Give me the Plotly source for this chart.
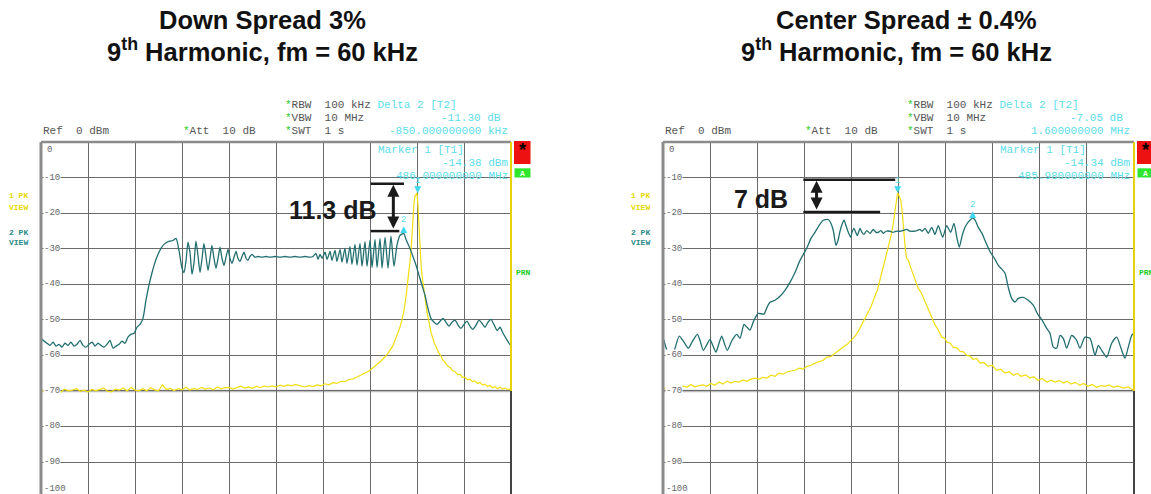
import plotly.graph_objects as go

W, H = 1151, 494

# ---------------- data (MHz, dBm) ----------------
# Left panel: Down spread 3 %  (span 462..492 MHz)
L_TEAL_F = [462.00, 462.19, 462.38, 462.57, 462.77, 462.96, 463.15, 463.34, 463.53, 463.72,
            463.91, 464.11, 464.30, 464.49, 464.68, 464.87, 465.06, 465.26, 465.45, 465.64,
            465.83, 466.02, 466.21, 466.40, 466.60, 466.79, 466.98, 467.17, 467.36, 467.55,
            467.74, 467.94, 468.13, 468.32, 468.51, 468.70, 468.89, 469.09, 469.28, 469.47,
            469.66, 469.85, 470.04, 470.23, 470.43, 470.62,
            470.81, 471.00, 471.13, 471.26, 471.38, 471.51, 471.64, 471.77, 471.89, 472.02,
            472.15, 472.28, 472.40, 472.53, 472.66, 472.79, 472.91, 473.04, 473.17, 473.30,
            473.43, 473.55, 473.68, 473.81, 473.94, 474.06, 474.19, 474.32, 474.45, 474.57,
            474.70, 474.83, 474.96, 475.09, 475.21, 475.34, 475.47,
            475.66, 475.85, 476.11, 476.36, 476.62, 476.94, 477.26, 477.57, 477.89, 478.21,
            478.53, 478.85, 479.17, 479.36,
            479.55, 479.68, 479.81, 479.94, 480.13, 480.26, 480.45, 480.57, 480.77, 480.89,
            481.09, 481.21, 481.40, 481.53, 481.72, 481.85, 482.04, 482.17, 482.36, 482.49,
            482.68, 482.81, 483.00, 483.13, 483.32, 483.45, 483.64, 483.77, 483.96, 484.15,
            484.34, 484.53, 484.72, 484.91, 485.15,
            485.30, 485.55, 485.74, 485.94, 486.13, 486.32, 486.51, 486.70, 486.89, 487.09,
            487.28, 487.47, 487.66, 487.85, 488.04, 488.23, 488.43, 488.62, 488.81, 489.00,
            489.19, 489.38, 489.57, 489.77, 489.96, 490.15, 490.34, 490.53, 490.72, 490.91,
            491.11, 491.30, 491.49, 491.68, 491.87, 492.00]
L_TEAL_DB = [-55.2, -56.0, -56.6, -57.2, -56.3, -57.4, -56.9, -57.7, -56.6, -57.2,
             -56.3, -57.4, -56.9, -55.8, -57.2, -57.7, -56.9, -56.3, -57.4, -56.6,
             -57.2, -57.7, -56.9, -55.8, -58.0, -57.4, -56.9, -56.0, -56.6, -54.9,
             -54.1, -53.8, -52.1, -51.3, -49.6, -44.5, -40.3, -36.7, -33.8, -31.6,
             -29.9, -28.8, -28.2, -27.9, -27.7, -27.1,
             -30.5, -35.5, -36.7, -33.3, -28.2, -31.0, -37.2, -33.8, -27.9, -31.9,
             -36.7, -32.7, -28.5, -32.2, -36.1, -32.7, -29.1, -32.7, -35.5, -32.7,
             -29.6, -32.7, -34.7, -32.4, -30.2, -32.7, -34.1, -32.4, -30.8, -32.7,
             -33.6, -32.2, -31.0, -32.7, -33.3, -32.2, -31.6,
             -32.4, -32.2, -32.4, -32.2, -32.4, -32.2, -32.4, -32.2, -32.4, -32.2,
             -32.4, -32.2, -32.4, -32.2,
             -31.3, -33.0, -31.6, -32.7, -31.0, -33.0, -30.8, -33.3, -30.5, -33.6,
             -30.2, -33.8, -29.9, -34.1, -29.4, -34.4, -28.8, -34.7, -28.5, -35.0,
             -28.0, -35.0, -27.7, -35.3, -27.4, -35.3, -27.1, -35.5, -26.8, -35.5,
             -26.5, -35.0, -29.1, -26.3, -25.7,
             -27.4, -29.9, -32.2, -34.7, -37.5, -40.3, -43.1, -46.8, -49.6, -50.7,
             -51.3, -50.4, -49.6, -50.7, -51.8, -50.7, -50.1, -51.5, -52.4, -51.3,
             -50.4, -51.8, -52.7, -51.5, -50.1, -51.0, -52.1, -50.7, -49.9, -51.3,
             -53.0, -52.1, -53.8, -55.2, -56.6, -57.4]

L_YEL_F = [462.00, 462.25, 462.50, 462.75, 463.00, 463.25, 463.50, 463.75, 464.00, 464.25,
           464.50, 464.75, 465.00, 465.25, 465.50, 465.75, 466.00, 466.25, 466.50, 466.75,
           467.00, 467.25, 467.50, 467.75, 468.00, 468.25, 468.50, 468.75, 469.00, 469.25,
           469.50, 469.75, 470.00, 470.25, 470.50, 470.75, 471.00, 471.25, 471.50, 471.75,
           472.00, 472.25, 472.50, 472.75, 473.00, 473.25, 473.50, 473.75, 474.00, 474.25,
           474.50, 474.75, 475.00, 475.25, 475.50, 475.75, 476.00, 476.25, 476.50, 476.75,
           477.00, 477.25, 477.50, 477.75, 478.00, 478.25, 478.50,
           478.85, 479.11, 479.36, 479.62, 479.87, 480.13, 480.38, 480.64, 480.89, 481.15,
           481.40, 481.66, 481.91, 482.17, 482.43, 482.68, 482.94, 483.19, 483.45, 483.70,
           483.96, 484.21, 484.47, 484.66, 484.85, 485.04, 485.17, 485.30, 485.43, 485.55,
           485.62, 485.68, 485.74, 485.81, 485.87, 485.94, 486.00, 486.06, 486.13, 486.19,
           486.26, 486.32, 486.38, 486.51, 486.64, 486.77, 486.89, 487.09, 487.28, 487.40,
           487.53, 487.66, 487.79, 487.95, 488.11, 488.27, 488.43, 488.59, 488.75, 488.90,
           489.06, 489.22, 489.38, 489.54, 489.70, 489.86, 490.02, 490.18, 490.34, 490.50,
           490.66, 490.82, 490.98, 491.14, 491.30, 491.46, 491.62, 491.80, 492.00]
L_YEL_DB = [-69.8, -70.2, -69.6, -70.1, -69.9, -70.4, -69.5, -70.0, -69.8, -69.3,
            -70.1, -69.8, -70.3, -69.6, -70.0, -69.7, -69.2, -70.1, -70.3, -69.5,
            -69.8, -69.2, -70.0, -69.0, -69.8, -70.0, -69.4, -70.0, -69.1, -69.7,
            -70.0, -68.3, -69.6, -69.3, -69.9, -69.4, -69.7, -69.0, -69.8, -69.3,
            -69.6, -69.0, -69.5, -69.2, -69.7, -68.9, -69.4, -69.1, -69.0, -69.5,
            -69.2, -68.7, -69.2, -68.9, -69.3, -68.7, -69.1, -68.6, -68.9, -68.6,
            -68.9, -68.4, -68.7, -68.3, -68.6, -68.2, -68.5,
            -68.9, -68.5, -68.8, -68.3, -68.6, -68.0, -68.3, -67.7, -67.9, -67.3,
            -67.4, -66.8, -66.6, -66.1, -65.6, -65.0, -64.4, -63.5, -62.6, -61.6,
            -60.4, -59.0, -57.2, -55.2, -52.9, -50.1, -47.3, -43.4, -38.9, -33.8,
            -30.5, -26.3, -20.8, -17.0, -15.2, -14.6, -14.4, -17.8, -23.5, -31.3,
            -34.7, -37.5, -39.7, -44.5, -47.9, -50.7, -53.5, -56.3, -58.3, -59.4,
            -60.2, -61.4, -61.9, -63.0, -63.4, -64.3, -64.6, -65.4, -65.3, -66.2,
            -66.1, -66.9, -66.7, -67.4, -67.2, -67.9, -67.6, -68.3, -68.1, -68.8,
            -68.5, -69.1, -68.8, -69.4, -69.0, -69.5, -69.2, -69.6, -69.4]

# Right panel: Center spread +/-0.4 %  (span 481..491 MHz)
R_TEAL_F = [481.000, 481.085, 481.185, 481.255, 481.346, 481.446, 481.537, 481.616, 481.728, 481.786,
            481.856, 481.934, 481.998, 482.062, 482.125, 482.189, 482.246, 482.295, 482.365, 482.465,
            482.565, 482.635, 482.720, 482.783, 482.847, 482.932, 483.023, 483.144, 483.208, 483.272,
            483.378, 483.484, 483.590, 483.696, 483.802, 483.909, 484.051, 484.142, 484.227, 484.312,
            484.403, 484.509, 484.567, 484.616, 484.673, 484.715, 484.758, 484.800, 484.843, 484.885,
            484.934, 484.985, 485.013, 485.055, 485.125, 485.183, 485.225, 485.267, 485.325, 485.395,
            485.465, 485.522, 485.571, 485.628, 485.677, 485.734, 485.819, 485.883, 485.947, 486.032,
            486.095, 486.174, 486.244, 486.314, 486.393, 486.456, 486.499, 486.563, 486.633, 486.705,
            486.775, 486.845, 486.938, 487.023, 487.108, 487.178, 487.242, 487.291, 487.348, 487.412,
            487.476, 487.580, 487.624, 487.694, 487.773, 487.836, 487.943, 488.049, 488.119, 488.176,
            488.261, 488.331, 488.403, 488.473, 488.543, 488.649, 488.755, 488.861, 488.968, 489.025,
            489.074, 489.146, 489.216, 489.286, 489.358, 489.429, 489.499, 489.571, 489.677, 489.783,
            489.853, 489.959, 490.066, 490.172, 490.242, 490.314, 490.420, 490.526, 490.632, 490.739,
            490.809, 490.879, 490.951, 491.000]
R_TEAL_DB = [-54.9, -58.6, -60.5, -58.0, -54.6, -56.3, -58.0, -56.3, -54.1, -55.8,
             -58.6, -56.9, -55.5, -57.4, -59.1, -56.6, -54.6, -56.3, -58.6, -55.8,
             -54.1, -55.2, -51.3, -52.1, -52.9, -50.1, -48.2, -48.4, -46.5, -45.1,
             -44.5, -43.4, -41.7, -39.5, -36.7, -33.3, -29.9, -27.1, -25.4, -23.5,
             -22.0, -21.8, -22.9, -24.9, -29.1, -27.7, -25.1, -23.2, -22.0, -23.5,
             -25.4, -26.8, -25.4, -24.3, -26.3, -24.3, -25.4, -26.0, -24.9, -25.7,
             -24.6, -25.4, -25.4, -24.9, -25.7, -25.1, -25.1, -25.4, -25.1, -25.1,
             -24.9, -24.6, -25.1, -25.1, -24.9, -24.6, -25.1, -24.3, -25.7, -24.0,
             -26.0, -23.5, -26.8, -23.5, -25.4, -22.9, -27.1, -29.6, -26.5, -24.0,
             -22.6, -21.4, -21.9, -24.0, -25.7, -27.7, -30.8, -33.0, -34.7, -35.5,
             -36.9, -40.9, -44.0, -45.0, -44.0, -43.7, -44.5, -45.9, -48.7, -49.6,
             -50.7, -52.4, -53.8, -57.7, -58.0, -54.4, -55.2, -58.0, -54.4, -55.8,
             -58.0, -54.9, -55.2, -60.0, -57.2, -58.6, -60.5, -56.6, -54.9, -58.6,
             -60.8, -57.7, -54.4, -53.8]

R_YEL_F = [481.00, 481.08, 481.17, 481.25, 481.34, 481.42, 481.51, 481.59, 481.68, 481.76,
           481.85, 481.93, 482.02, 482.10, 482.19, 482.27, 482.36, 482.44, 482.53, 482.61,
           482.70, 482.78, 482.87, 482.95, 483.04, 483.12, 483.21, 483.29, 483.38, 483.46,
           483.55, 483.63, 483.72, 483.80, 483.89, 483.97, 484.06, 484.14, 484.23, 484.31,
           484.40, 484.48, 484.57, 484.65, 484.74, 484.82, 484.91, 484.99, 485.08, 485.16,
           485.25, 485.33, 485.42, 485.48, 485.55, 485.61, 485.67, 485.73, 485.80, 485.84,
           485.88, 485.93, 485.95, 485.98, 486.01, 486.05, 486.08, 486.10, 486.14, 486.17,
           486.21, 486.28, 486.35, 486.41, 486.49, 486.58, 486.67, 486.77, 486.85, 486.92,
           486.98, 487.03, 487.10, 487.16, 487.24, 487.31, 487.38, 487.45, 487.52, 487.58,
           487.66, 487.73, 487.81, 487.90, 487.99, 488.08, 488.17, 488.26, 488.35, 488.44,
           488.52, 488.60, 488.70, 488.79, 488.87, 488.96, 489.05, 489.15, 489.24, 489.32,
           489.41, 489.50, 489.58, 489.66, 489.75, 489.85, 489.93, 490.02, 490.11, 490.21,
           490.30, 490.38, 490.47, 490.56, 490.66, 490.77, 490.88, 490.99]
R_YEL_DB = [-69.5, -69.0, -69.6, -68.7, -69.2, -68.6, -69.0, -68.2, -68.9, -68.5,
            -68.3, -68.7, -67.9, -68.4, -67.5, -68.1, -67.3, -67.8, -67.3, -67.5,
            -66.9, -67.3, -66.7, -66.4, -66.7, -66.2, -66.4, -65.6, -65.9, -65.0,
            -65.3, -64.7, -64.4, -64.2, -63.6, -63.9, -63.1, -62.8, -62.2, -61.9,
            -61.4, -60.5, -60.3, -59.4, -58.6, -57.7, -56.9, -55.8, -54.6, -52.9,
            -50.7, -48.7, -46.2, -44.0, -41.7, -38.6, -35.5, -32.2, -28.8, -26.5,
            -23.7, -18.4, -16.4, -14.4, -15.0, -16.4, -19.8, -24.0, -29.4, -32.7,
            -33.3, -36.1, -38.9, -40.9, -42.6, -45.4, -48.2, -51.3, -53.0, -54.9,
            -55.2, -56.3, -56.6, -57.7, -57.9, -58.9, -59.0, -60.0, -60.2, -61.1,
            -60.9, -62.2, -62.0, -63.1, -62.8, -64.2, -63.9, -65.0, -64.6, -65.6,
            -65.1, -65.9, -65.5, -66.4, -66.0, -67.0, -66.5, -67.5, -67.0, -67.5,
            -67.1, -67.8, -67.3, -68.1, -67.6, -68.4, -67.9, -68.7, -68.2, -69.0,
            -68.5, -68.7, -68.3, -69.0, -68.6, -69.2, -68.9, -69.8]

Y_TICKS = [0, -10, -20, -30, -40, -50, -60, -70, -80, -90, -100]

# panel settings
PANELS = [
    dict(xa="x", ya="y", x_range=[462, 492], dtick=3, dom=[41, 511],
         title1="Down Spread 3%", t1x=262, t2x=262,
         m1=(486.00, -14.38), m2=(485.15, -25.68),
         delta_db="-11.30 dB", delta_f="-850.000000000 kHz",
         m1_db="-14.38 dBm", m1_f="486.000000000 MHz",
         bracket_x=(483.04, 485.17, 484.87, 484.49), bracket_y=(-11.74, -25.06),
         label="11.3 dB", label_px=(333, 210)),
    dict(xa="x2", ya="y2", x_range=[481, 491], dtick=1, dom=[663, 1134],
         title1="Center Spread \u00b1 0.4%", t1x=906, t2x=896,
         m1=(485.98, -14.34), m2=(487.58, -21.39),
         delta_db="-7.05 dB", delta_f="1.600000000 MHz",
         m1_db="-14.34 dBm", m1_f="485.980000000 MHz",
         bracket_x=(483.98, 485.93, 485.61, 484.26), bracket_y=(-10.62, -19.72),
         label="7 dB", label_px=(761, 199)),
]

TEAL = "#236f70"
YEL = "#f2de10"
CYAN = "#5cdde8"
GREEN = "#22cc22"
GRID = "#6a6a6a"
TXT = "#555555"
MONO = "Liberation Mono, Courier New, monospace"
SANS = "Liberation Sans, Arial, sans-serif"


def P(px, py):
    return px / W, 1 - py / H


fig = go.Figure()
fig.add_trace(go.Scatter(x=L_YEL_F, y=L_YEL_DB, mode="lines", line=dict(color=YEL, width=1.2),
                         xaxis="x", yaxis="y", hoverinfo="skip"))
fig.add_trace(go.Scatter(x=L_TEAL_F, y=L_TEAL_DB, mode="lines",
                         line=dict(color=TEAL, width=1.3, shape="spline", smoothing=0.6),
                         xaxis="x", yaxis="y", hoverinfo="skip"))
fig.add_trace(go.Scatter(x=R_YEL_F, y=R_YEL_DB, mode="lines", line=dict(color=YEL, width=1.2),
                         xaxis="x2", yaxis="y2", hoverinfo="skip"))
fig.add_trace(go.Scatter(x=R_TEAL_F, y=R_TEAL_DB, mode="lines",
                         line=dict(color=TEAL, width=1.3, shape="spline", smoothing=0.6),
                         xaxis="x2", yaxis="y2", hoverinfo="skip"))

ann = []
shapes = []


def text(px, py, s, size=11, color=TXT, xanchor="left", family=MONO, yanchor="middle", bg=None):
    x, y = P(px, py)
    d = dict(x=x, y=y, xref="paper", yref="paper", text=s, showarrow=False,
             xanchor=xanchor, yanchor=yanchor, font=dict(family=family, size=size, color=color))
    if bg:
        d["bgcolor"] = bg
    d["borderpad"] = 0
    ann.append(d)


layout_axes = {}
for i, p in enumerate(PANELS):
    off = p["dom"][0] - 41
    xa_name = "xaxis" if p["xa"] == "x" else "xaxis2"
    ya_name = "yaxis" if p["ya"] == "y" else "yaxis2"
    layout_axes[xa_name] = dict(domain=[p["dom"][0] / W, p["dom"][1] / W], range=p["x_range"],
                                tick0=p["x_range"][0], dtick=p["dtick"], showgrid=True,
                                gridcolor=GRID, gridwidth=1, showticklabels=False, ticks="",
                                zeroline=False, showline=False, anchor=p["ya"], fixedrange=True)
    layout_axes[ya_name] = dict(domain=[0, 1 - 142 / H], range=[-99, 0], tick0=0, dtick=10,
                                showgrid=True, gridcolor=GRID, gridwidth=1, showticklabels=False,
                                ticks="", zeroline=False, showline=False, anchor=p["xa"],
                                fixedrange=True)
    xd = p["xa"] + " domain"
    yd = p["ya"] + " domain"
    # display line at -70 (lighter)
    shapes.append(dict(type="line", xref=xd, yref=p["ya"], x0=0, x1=1, y0=-70, y1=-70,
                       line=dict(color="#bdbdbd", width=2.5), layer="below"))
    # frame
    shapes.append(dict(type="line", xref=xd, yref=yd, x0=0, x1=0, y0=0, y1=1,
                       line=dict(color="#8c8c8c", width=3)))
    shapes.append(dict(type="line", xref=xd, yref=yd, x0=0, x1=1, y0=1, y1=1,
                       line=dict(color="#8c8c8c", width=2.5)))
    shapes.append(dict(type="line", xref=xd, yref=p["ya"], x0=1, x1=1, y0=0, y1=-70,
                       line=dict(color="#e6d20a", width=2)))
    shapes.append(dict(type="line", xref=xd, yref=p["ya"], x0=1, x1=1, y0=-70, y1=-99,
                       line=dict(color="#444444", width=2)))
    # y labels inside the grid
    for v in Y_TICKS:
        yv = -2.3 if v == 0 else (-97.6 if v == -100 else v)
        ann.append(dict(x=0, y=yv, xref=xd, yref=p["ya"], text=str(v),
                        showarrow=False, xanchor="left", yanchor="middle", xshift=2 if v != 0 else 5,
                        font=dict(family=MONO, size=9, color="#666666"), bgcolor="white", borderpad=0))
    # titles
    text(p["t1x"], 20, "<b>" + p["title1"] + "</b>", size=25.5, color="#111111", xanchor="center", family=SANS)
    text(p["t2x"], 50, "<b>9<sup>th</sup> Harmonic, fm = 60 kHz</b>", size=25.5, color="#111111",
         xanchor="center", family=SANS)
    # header
    text(284 + off, 105, '<span style="color:%s">*</span>RBW  100 kHz <span style="color:%s">Delta 2 [T2]</span>' % (GREEN, CYAN))
    text(284 + off, 118, '<span style="color:%s">*</span>VBW  10 MHz' % GREEN)
    text(284 + off, 131, '<span style="color:%s">*</span>SWT  1 s' % GREEN)
    text(502 + off, 118, p["delta_db"], color=CYAN, xanchor="right")
    text(508.5 + off, 131, p["delta_f"], color=CYAN, xanchor="right")
    text(41.5 + off, 131, "Ref  0 dBm")
    text(182 + off, 131, '<span style="color:%s">*</span>Att  10 dB' % GREEN)
    text(377 + off, 150, "Marker 1 [T1]", color=CYAN)
    text(508.5 + off, 163, p["m1_db"], color=CYAN, xanchor="right")
    text(508.5 + off, 176.5, p["m1_f"], color=CYAN, xanchor="right")
    # side labels
    lx = 8 + off
    text(lx, 196, "<b>1 PK</b>", size=8, color="#e6d800")
    text(lx, 207.5, "<b>VIEW</b>", size=8, color="#e6d800")
    text(lx, 232, "<b>2 PK</b>", size=8, color="#2a8a8a")
    text(lx, 243, "<b>VIEW</b>", size=8, color="#2a8a8a")
    rx = 514 + off + (1 if i == 1 else 0)
    x0, y0 = P(rx, 141)
    x1, y1 = P(rx + 16.5, 164)
    shapes.append(dict(type="rect", xref="paper", yref="paper", x0=x0, x1=x1, y0=y1, y1=y0,
                       fillcolor="#ee1111", line=dict(width=0)))
    text(rx + 8.2, 150, "<b>*</b>", size=18, color="black", xanchor="center", family=SANS)
    x0, y0 = P(rx + 0.5, 168.3)
    x1, y1 = P(rx + 16.5, 177.5)
    shapes.append(dict(type="rect", xref="paper", yref="paper", x0=x0, x1=x1, y0=y1, y1=y0,
                       fillcolor="#2ee62e", line=dict(width=0)))
    text(rx + 8.5, 173, "<b>A</b>", size=8, color="#eaffea", xanchor="center")
    text(rx + 0.5, 272.5, "<b>PRN</b>", size=8, color=GREEN)
    # delta markers
    m1f, m1d = p["m1"]
    m2f, m2d = p["m2"]
    ann.append(dict(x=m1f, y=m1d, xref=p["xa"], yref=p["ya"], text="\u25bc", showarrow=False,
                    yanchor="bottom", yshift=-3, font=dict(family="DejaVu Sans", size=9, color="#3fd6f0")))
    ann.append(dict(x=m1f, y=m1d, xref=p["xa"], yref=p["ya"], text="1", showarrow=False,
                    yanchor="bottom", yshift=5, font=dict(family=MONO, size=9, color=CYAN)))
    ann.append(dict(x=m2f, y=m2d, xref=p["xa"], yref=p["ya"], text="\u25b2", showarrow=False,
                    yanchor="bottom", yshift=-3, font=dict(family="DejaVu Sans", size=9, color="#3fd6f0")))
    ann.append(dict(x=m2f, y=m2d, xref=p["xa"], yref=p["ya"], text="2", showarrow=False,
                    yanchor="bottom", yshift=6, font=dict(family=MONO, size=9, color=CYAN)))
    # bracket + double arrow
    bx0, bx1, bx2, ax_ = p["bracket_x"]
    by0, by1 = p["bracket_y"]
    shapes.append(dict(type="line", xref=p["xa"], yref=p["ya"], x0=bx0, x1=bx1, y0=by0, y1=by0,
                       line=dict(color="#1a1a1a", width=2.5)))
    shapes.append(dict(type="line", xref=p["xa"], yref=p["ya"], x0=bx0, x1=bx2, y0=by1, y1=by1,
                       line=dict(color="#1a1a1a", width=2.5)))
    ann.append(dict(x=ax_, y=by0 - 0.3, xref=p["xa"], yref=p["ya"], ax=ax_, ay=by1 + 0.3,
                    axref=p["xa"], ayref=p["ya"], text="", showarrow=True, arrowside="end+start",
                    arrowhead=2, arrowsize=0.8, arrowwidth=3, arrowcolor="#1a1a1a",
                    standoff=0, startstandoff=0, startarrowhead=2, startarrowsize=0.8))
    text(p["label_px"][0], p["label_px"][1], "<b>" + p["label"] + "</b>", size=25,
         color="#1a1a1a", xanchor="center", family=SANS)

fig.update_layout(width=W, height=H, margin=dict(l=0, r=0, t=0, b=0),
                  paper_bgcolor="white", plot_bgcolor="white", showlegend=False,
                  annotations=ann, shapes=shapes, **layout_axes)
fig.write_html("out.html", config={"displayModeBar": False},
               post_script="document.body.style.margin='0px';document.body.style.overflow='hidden';")
